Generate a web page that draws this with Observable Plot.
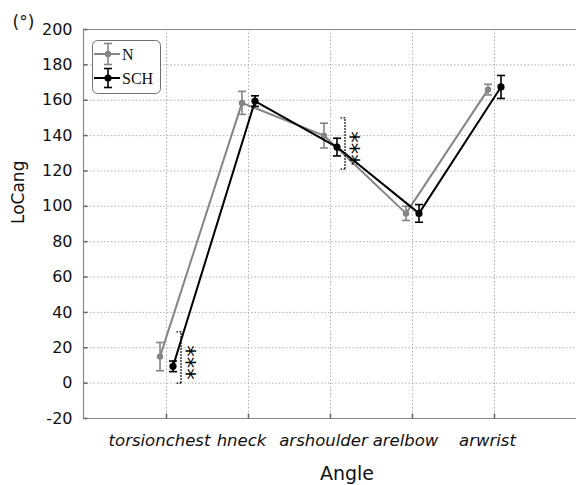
<!DOCTYPE html>
<html>
<head>
<meta charset="utf-8">
<script src="https://cdn.jsdelivr.net/npm/d3@7"></script>
<script src="https://cdn.jsdelivr.net/npm/@observablehq/plot@0.6"></script>
<style>
  body { margin: 0; background: #fff; }
  #wrap { position: relative; width: 576px; height: 485px; }
  #legend { position: absolute; left: 92px; top: 40px; }
</style>
</head>
<body>
<div id="wrap"><div id="chart"></div><div id="legend"></div></div>
<script>
// Joint angles per group: mean and error-bar half-width (degrees)
const categories = ["torsionchest", "hneck", "arshoulder", "arelbow", "arwrist"];
const nMean   = [15, 158.5, 140, 96, 166];
const nErr    = [8, 6.5, 7, 4, 3];
const schMean = [9.5, 159.5, 133.5, 96, 167.5];
const schErr  = [3, 3, 5, 5, 6.5];

// Significance brackets (***)
const sigCategories = ["torsionchest", "arshoulder"];
const sigLow  = [0, 121];
const sigHigh = [29, 150];
const sigLabel = ["***", "***"];

const yTicks = [-20, 0, 20, 40, 60, 80, 100, 120, 140, 160, 180, 200];

const groups = [
  {name: "N", mean: nMean, err: nErr, color: "#858585", dx: -6.5, r: 3.2},
  {name: "SCH", mean: schMean, err: schErr, color: "#000000", dx: 6.5, r: 3.6}
];
const rows = groups.map(g => categories.map((c, i) => ({cat: c, mean: g.mean[i], err: g.err[i]})));
const sig = sigCategories.map((c, i) => ({cat: c, lo: sigLow[i], hi: sigHigh[i], label: sigLabel[i]}));

// small line-shaped symbols for caps and inward ticks
const capSymbol   = {draw(ctx, size) { const r = Math.sqrt(size / Math.PI); ctx.moveTo(-r, 0); ctx.lineTo(r, 0); }};
const rightSymbol = {draw(ctx, size) { const r = Math.sqrt(size / Math.PI); ctx.moveTo(0, 0); ctx.lineTo(r, 0); }};
const leftSymbol  = {draw(ctx, size) { const r = Math.sqrt(size / Math.PI); ctx.moveTo(0, 0); ctx.lineTo(-r, 0); }};
const upSymbol    = {draw(ctx, size) { const r = Math.sqrt(size / Math.PI); ctx.moveTo(0, 0); ctx.lineTo(0, -r); }};

const dejavu = "DejaVu Sans, sans-serif";
const frameColor = "#8a8a8a";

const groupMarks = groups.flatMap((g, k) => {
  const d = rows[k];
  return [
    Plot.ruleX(d, {x: "cat", y1: r => r.mean - r.err, y2: r => r.mean + r.err, dx: g.dx, stroke: g.color, strokeWidth: 1.6}),
    Plot.dot(d, {x: "cat", y: r => r.mean + r.err, dx: g.dx, symbol: capSymbol, r: 4, stroke: g.color, fill: "none", strokeWidth: 1.6}),
    Plot.dot(d, {x: "cat", y: r => r.mean - r.err, dx: g.dx, symbol: capSymbol, r: 4, stroke: g.color, fill: "none", strokeWidth: 1.6}),
    Plot.line(d, {x: "cat", y: "mean", dx: g.dx, stroke: g.color, strokeWidth: 2}),
    Plot.dot(d, {x: "cat", y: "mean", dx: g.dx, r: g.r, fill: g.color, stroke: "none"})
  ];
});

const chart = Plot.plot({
  width: 576,
  height: 485,
  marginLeft: 83,
  marginRight: 0,
  marginTop: 29,
  marginBottom: 67,
  x: {type: "point", domain: categories, padding: 1, axis: null},
  y: {domain: [-20, 200], axis: null},
  style: {fontFamily: dejavu, background: "#fff", overflow: "visible"},
  marks: [
    Plot.gridY(yTicks, {stroke: "#b0b0b0", strokeOpacity: 1, strokeDasharray: "1.5,2"}),
    Plot.gridX(categories, {stroke: "#b0b0b0", strokeOpacity: 1, strokeDasharray: "1.5,2"}),
    Plot.ruleY([200], {stroke: frameColor, strokeWidth: 1}),
    Plot.ruleY([-20], {stroke: frameColor, strokeWidth: 1.2}),
    Plot.frame({anchor: "left", stroke: frameColor, strokeWidth: 1.2}),
    // inward ticks
    Plot.dot(yTicks, {y: d => d, frameAnchor: "left", symbol: rightSymbol, r: 4, stroke: "#666", fill: "none"}),
    Plot.dot(categories, {x: d => d, frameAnchor: "bottom", symbol: upSymbol, r: 5, stroke: "#666", fill: "none"}),
    // tick labels
    Plot.text(yTicks, {y: d => d, text: d => String(d), frameAnchor: "left", dx: -11, textAnchor: "end", lineAnchor: "middle", fontSize: 16, fill: "#111"}),
    Plot.text(categories, {x: d => d, text: d => d, frameAnchor: "bottom", dy: 22, dx: -7, lineAnchor: "middle", fontSize: 16.5, fontStyle: "italic", fill: "#111"}),
    // axis titles
    Plot.text(["LoCang"], {frameAnchor: "left", dx: -65, rotate: -90, lineAnchor: "middle", fontSize: 17, fill: "#111"}),
    Plot.text(["Angle"], {frameAnchor: "bottom", dx: 17, dy: 55, lineAnchor: "middle", fontSize: 19, fill: "#111"}),
    Plot.text(["(°)"], {frameAnchor: "top-left", dx: -71, dy: -7, textAnchor: "start", lineAnchor: "middle", fontSize: 17, fill: "#111"}),
    ...groupMarks,
    // significance brackets
    Plot.ruleX(sig, {x: "cat", y1: "lo", y2: "hi", dx: 14.5, stroke: "#000", strokeWidth: 1.5, strokeDasharray: "1.5,1.5"}),
    Plot.dot(sig, {x: "cat", y: "hi", dx: 14.5, symbol: leftSymbol, r: 6, stroke: "#000", fill: "none", strokeWidth: 1.3, strokeDasharray: "1.5,1.5"}),
    Plot.dot(sig, {x: "cat", y: "lo", dx: 14.5, symbol: leftSymbol, r: 6, stroke: "#000", fill: "none", strokeWidth: 1.3, strokeDasharray: "1.5,1.5"}),
    // stacked asterisks, written top to bottom
    Plot.text(sig, {x: "cat", y: d => (d.lo + d.hi) / 2, text: "label", rotate: 90, dx: 20, dy: 5, lineAnchor: "middle", fontSize: 23, fontFamily: dejavu, fill: "#000"})
  ]
});
document.getElementById("chart").appendChild(chart);

// legend box
const lg = d3.select("#legend").append("svg").attr("width", 70).attr("height", 55);
lg.append("rect").attr("x", 0.5).attr("y", 0.5).attr("width", 68).attr("height", 53)
  .attr("rx", 5).attr("fill", "#fff").attr("stroke", "#707070").attr("stroke-width", 1);
groups.forEach((g, k) => {
  const cy = 14 + k * 24, cx = 16;
  const e = g.name === "N" ? 10.5 : 9.5;
  const row = lg.append("g").attr("stroke", g.color);
  row.append("line").attr("x1", 2).attr("x2", 28).attr("y1", cy).attr("y2", cy).attr("stroke-width", 2);
  row.append("line").attr("x1", cx).attr("x2", cx).attr("y1", cy - e).attr("y2", cy + e).attr("stroke-width", 1.6);
  row.append("line").attr("x1", cx - 4).attr("x2", cx + 4).attr("y1", cy - e).attr("y2", cy - e).attr("stroke-width", 1.6);
  row.append("line").attr("x1", cx - 4).attr("x2", cx + 4).attr("y1", cy + e).attr("y2", cy + e).attr("stroke-width", 1.6);
  row.append("circle").attr("cx", cx).attr("cy", cy).attr("r", g.r).attr("fill", g.color).attr("stroke", "none");
  lg.append("text").attr("x", 30).attr("y", cy).attr("dy", "0.35em")
    .attr("font-family", "Liberation Serif, Times New Roman, serif").attr("font-size", 16)
    .attr("fill", "#111").text(g.name);
});
</script>
</body>
</html>
